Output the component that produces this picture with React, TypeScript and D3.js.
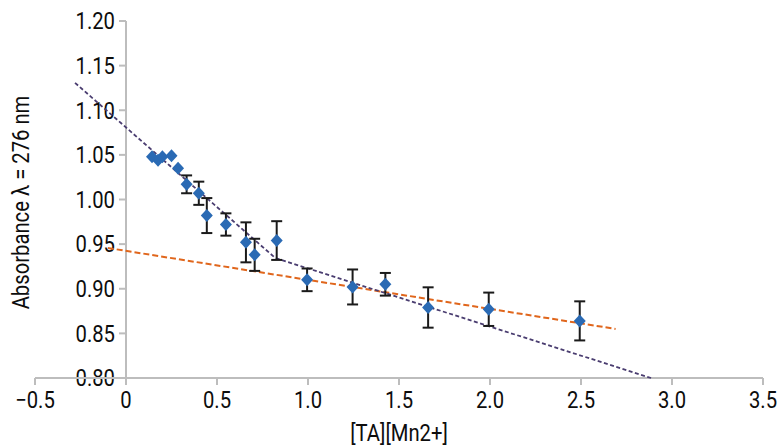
import React from 'react';
import * as d3 from 'd3';

// measured points: [TA]/[Mn2+] ratio vs absorbance at 276 nm
const ratio = [0.143, 0.176, 0.2, 0.25, 0.286, 0.333, 0.4, 0.444, 0.549, 0.659, 0.707, 0.828, 0.995, 1.245, 1.425, 1.66, 1.993, 2.493];
const absorbance = [1.048, 1.044, 1.048, 1.049, 1.035, 1.017, 1.007, 0.982, 0.972, 0.952, 0.938, 0.954, 0.910, 0.902, 0.905, 0.879, 0.877, 0.864];
const errorBar = [0, 0, 0, 0, 0, 0.010, 0.013, 0.0196, 0.0125, 0.0224, 0.018, 0.0217, 0.0127, 0.0196, 0.0127, 0.0226, 0.0187, 0.0219];

// dashed trend lines
const steepFitX = [-0.28, 0.82, 2.885];
const steepFitY = [1.1307, 0.9345, 0.8];
const flatFitX = [-0.1, 2.69];
const flatFitY = [0.9457, 0.855];

const xTicks = [-0.5, 0, 0.5, 1.0, 1.5, 2.0, 2.5, 3.0, 3.5];
const xTickLabels = ['\u22120.5', '0', '0.5', '1.0', '1.5', '2.0', '2.5', '3.0', '3.5'];
const yTicks = [0.8, 0.85, 0.9, 0.95, 1.0, 1.05, 1.1, 1.15, 1.2];
const yTickLabels = ['0.80', '0.85', '0.90', '0.95', '1.00', '1.05', '1.10', '1.15', '1.20'];

const W = 777;
const H = 446;
const font = 'Roboto, sans-serif';
const fontSize = 23;
const squeeze = 0.88; // condensed look
const axisColor = '#bdbdbd';
const textColor = '#0d0d0d';

// text squeezed horizontally around its anchor point
function Label(props: { x: number; y: number; anchor: string; rotate?: number; dy?: string; children: React.ReactNode }) {
  const { x, y, anchor, rotate = 0, dy, children } = props;
  return (
    <text
      transform={`translate(${x},${y}) rotate(${rotate}) scale(${squeeze},1)`}
      textAnchor={anchor}
      dy={dy}
      fontFamily={font}
      fontSize={fontSize}
      fill={textColor}
    >
      {children}
    </text>
  );
}

export default function App() {
  const x = d3.scaleLinear().domain([-0.5, 3.5]).range([35, 763]);
  const y = d3.scaleLinear().domain([0.8, 1.2]).range([378, 21]);

  const line = d3.line<[number, number]>().x(d => x(d[0])).y(d => y(d[1]));
  const steep = line(steepFitX.map((v, i) => [v, steepFitY[i]] as [number, number]));
  const flat = line(flatFitX.map((v, i) => [v, flatFitY[i]] as [number, number]));

  const x0 = x(0);
  const yBase = y(0.8);

  const diamond = (cx: number, cy: number) =>
    `M${cx},${cy - 6.5}L${cx + 6},${cy}L${cx},${cy + 6.5}L${cx - 6},${cy}Z`;

  return (
    <svg width={W} height={H} style={{ position: 'absolute', left: 0, top: 0, background: '#fff' }}>
      {/* y axis */}
      <line x1={x0} x2={x0} y1={y(1.2)} y2={yBase} stroke={axisColor} strokeWidth={2} />
      {yTicks.map((t, i) => (
        <g key={'y' + i}>
          <line x1={x0 - 7} x2={x0} y1={y(t)} y2={y(t)} stroke={axisColor} strokeWidth={2} />
          <Label x={x0 - 11} y={y(t)} dy="0.36em" anchor="end">{yTickLabels[i]}</Label>
        </g>
      ))}
      {/* x axis */}
      <line x1={x(-0.5)} x2={x(3.5)} y1={yBase} y2={yBase} stroke={axisColor} strokeWidth={2} />
      {xTicks.map((t, i) => (
        <g key={'x' + i}>
          <line x1={x(t)} x2={x(t)} y1={yBase} y2={yBase + 7} stroke={axisColor} strokeWidth={2} />
          <Label x={x(t)} y={yBase + 30} anchor="middle">{xTickLabels[i]}</Label>
        </g>
      ))}

      {/* trend lines */}
      <path d={flat ?? ''} fill="none" stroke="#e0661c" strokeWidth={2} strokeDasharray="6,3" />
      <path d={steep ?? ''} fill="none" stroke="#4a3d70" strokeWidth={1.8} strokeDasharray="4,2.5" />

      {/* error bars */}
      {ratio.map((r, i) =>
        errorBar[i] > 0 ? (
          <g key={'e' + i} stroke="#1a1a1a" strokeWidth={2}>
            <line x1={x(r)} x2={x(r)} y1={y(absorbance[i] + errorBar[i])} y2={y(absorbance[i] - errorBar[i])} />
            <line x1={x(r) - 5.5} x2={x(r) + 5.5} y1={y(absorbance[i] + errorBar[i])} y2={y(absorbance[i] + errorBar[i])} />
            <line x1={x(r) - 5.5} x2={x(r) + 5.5} y1={y(absorbance[i] - errorBar[i])} y2={y(absorbance[i] - errorBar[i])} />
          </g>
        ) : null
      )}

      {/* points */}
      {ratio.map((r, i) => (
        <path key={'p' + i} d={diamond(x(r), y(absorbance[i]))} fill="#2a6ab4" />
      ))}

      {/* axis titles */}
      <Label x={(x(-0.5) + x(3.5)) / 2} y={H - 5} anchor="middle">[TA][Mn2+]</Label>
      <Label x={29} y={(y(1.2) + yBase) / 2 + 3} anchor="middle" rotate={-90}>Absorbance λ = 276 nm</Label>
    </svg>
  );
}
